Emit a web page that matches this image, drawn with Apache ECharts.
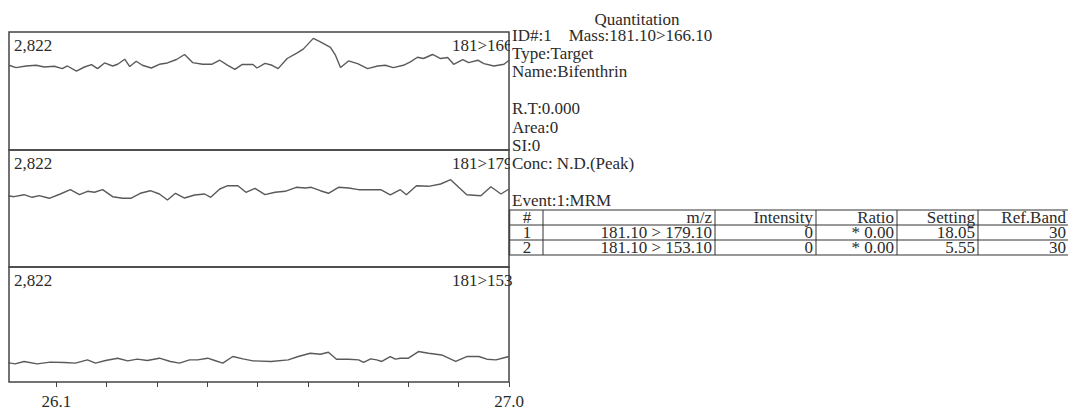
<!DOCTYPE html>
<html><head><meta charset="utf-8">
<script src="https://cdn.jsdelivr.net/npm/echarts@6/dist/echarts.min.js"></script>
<style>html,body{margin:0;padding:0;background:#fff}#c{width:1068px;height:410px}</style>
</head><body><div id="c"></div><script>
// ---- data ----
const xMin = 26.006, xMax = 27.0;
const yMax = 2822;
const yMaxLabel = "2,822";
const channels = ["181>166", "181>179", "181>153"];
const tickValues = [26.1, 26.2, 26.3, 26.4, 26.5, 26.6, 26.7, 26.8, 26.9, 27.0];
const tickLabels = [26.1, 27.0];

const t1 = [26.006,26.020,26.040,26.060,26.076,26.096,26.112,26.122,26.140,26.156,26.170,26.182,26.196,26.212,26.222,26.236,26.246,26.259,26.271,26.289,26.305,26.321,26.339,26.355,26.371,26.391,26.409,26.425,26.441,26.455,26.469,26.491,26.499,26.515,26.529,26.541,26.559,26.579,26.591,26.611,26.625,26.645,26.655,26.665,26.681,26.699,26.719,26.739,26.754,26.770,26.790,26.804,26.818,26.830,26.848,26.864,26.878,26.890,26.908,26.920,26.938,26.950,26.970,26.990,27.000];
const i1 = [2026,1971,2009,2026,1985,2002,1946,2009,1889,1985,2043,1946,2082,2009,2050,2171,1995,2123,2026,1961,2050,2082,2164,2284,2091,2050,2050,2147,2026,1930,2043,2043,1961,2070,2026,1946,2188,2323,2412,2670,2588,2453,2267,1971,2130,2067,1946,2009,2026,1971,2026,2106,2219,2188,2284,2188,2212,2050,2164,2091,2147,2067,2009,2050,2147];

const t2 = [26.002,26.016,26.036,26.052,26.066,26.086,26.108,26.128,26.146,26.162,26.176,26.192,26.212,26.232,26.248,26.267,26.287,26.305,26.321,26.337,26.355,26.375,26.395,26.407,26.425,26.441,26.461,26.477,26.495,26.515,26.535,26.555,26.577,26.595,26.607,26.625,26.641,26.661,26.681,26.701,26.725,26.745,26.764,26.784,26.796,26.816,26.840,26.864,26.884,26.900,26.916,26.944,26.964,26.984,27.000];
const i2 = [1720,1696,1744,1681,1720,1657,1761,1865,1744,1826,1802,1865,1696,1657,1657,1778,1840,1761,1616,1778,1664,1737,1761,1681,1881,1961,1961,1802,1898,1744,1802,1826,1922,1905,1922,1840,1778,1922,1905,1865,1865,1865,1737,1865,1744,1961,1946,2002,2106,1922,1744,1720,1937,1761,1881];

const t3 = [26.002,26.018,26.036,26.062,26.088,26.116,26.138,26.162,26.178,26.198,26.222,26.242,26.261,26.281,26.305,26.327,26.345,26.365,26.381,26.401,26.415,26.431,26.451,26.471,26.491,26.527,26.561,26.581,26.605,26.625,26.641,26.657,26.681,26.701,26.711,26.725,26.737,26.747,26.764,26.774,26.784,26.800,26.820,26.840,26.866,26.894,26.916,26.940,26.956,26.974,26.994,27.000];
const i3 = [479,445,504,445,487,479,462,543,462,528,584,518,560,528,584,504,462,543,543,584,528,462,625,567,518,504,543,625,706,681,730,560,560,543,479,567,543,504,625,560,584,584,747,706,664,504,625,625,560,543,608,625];

const infoTitle = "Quantitation";
const infoLines = ["ID#:1\u00a0\u00a0\u00a0\u00a0Mass:181.10>166.10", "Type:Target", "Name:Bifenthrin", "", "R.T:0.000", "Area:0", "SI:0", "Conc: N.D.(Peak)", "", "Event:1:MRM"];
const tableHeader = ["#", "m/z", "Intensity", "Ratio", "Setting", "Ref.Band"];
const tableRows = [
  ["1", "181.10 > 179.10", "0", "* 0.00", "18.05", "30"],
  ["2", "181.10 > 153.10", "0", "* 0.00", "5.55", "30"]
];

// ---- layout ----
const FONT = "'Liberation Serif','Times New Roman',serif";
const TXT = '#2b2b2b';
const panels = [
  { top: 32, height: 118 },
  { top: 150, height: 117 },
  { top: 267, height: 116 }
];
const gLeft = 9, gWidth = 500;
const seriesT = [t1, t2, t3], seriesI = [i1, i2, i3];

const grid = panels.map(p => ({ left: gLeft, top: p.top, width: gWidth, height: p.height, show: true, borderColor: '#444', borderWidth: 1.5, backgroundColor: 'transparent', containLabel: false }));
const xAxis = panels.map((p, k) => ({
  type: 'value', gridIndex: k, min: xMin, max: xMax, show: k === 2,
  axisLine: { show: false }, splitLine: { show: false },
  axisTick: { show: true, inside: false, length: 5, customValues: tickValues, lineStyle: { color: '#444', width: 1 } },
  axisLabel: { customValues: tickLabels, formatter: v => v.toFixed(1), fontFamily: FONT, fontSize: 17, color: TXT, margin: 11 }
}));
const yAxis = panels.map((p, k) => ({ type: 'value', gridIndex: k, min: 0, max: yMax, show: false }));
const series = panels.map((p, k) => ({
  type: 'line', xAxisIndex: k, yAxisIndex: k, showSymbol: false, symbol: 'none',
  lineStyle: { color: '#5a5a5a', width: 1.4 }, animation: false,
  data: seriesT[k].map((t, j) => [t, seriesI[k][j]])
}));

// text placed by its baseline; compact line box (14px) so neighbouring rows do not collide
function txt(s, x, baseline, align, z) {
  return { type: 'text', z: z, x: x, y: baseline - 5, style: { text: s, font: '17px ' + FONT, lineHeight: 14, fill: TXT, align: align || 'left', verticalAlign: 'middle' } };
}

const graphic = [];
panels.forEach((p, k) => {
  graphic.push(txt(yMaxLabel, 14, p.top + 18, 'left', 1));
  graphic.push(txt(channels[k], 452, p.top + 18, 'left', 1));
});
graphic.push({ type: 'rect', z: 2, shape: { x: 510, y: 0, width: 600, height: 272 }, style: { fill: '#fff' } });
graphic.push(txt(infoTitle, 637, 24, 'center', 3));
infoLines.forEach((s, k) => {
  if (!s) return;
  graphic.push(txt(s, 512, 40 + 18.4 * k, 'left', 3));
});
// table
const rowLines = [210, 225, 240, 255];
const colLines = [543, 715, 816, 897, 978];
const colRight = [null, 712, 813, 894, 975, 1066];
rowLines.forEach(y => graphic.push({ type: 'line', z: 3, shape: { x1: 509, y1: y, x2: 1068, y2: y }, style: { stroke: '#333', lineWidth: 1 } }));
colLines.forEach(x => graphic.push({ type: 'line', z: 3, shape: { x1: x, y1: rowLines[0], x2: x, y2: rowLines[3] }, style: { stroke: '#333', lineWidth: 1 } }));
graphic.push({ type: 'line', z: 3, shape: { x1: 509.5, y1: rowLines[0], x2: 509.5, y2: rowLines[3] }, style: { stroke: '#444', lineWidth: 1.5 } });
[tableHeader].concat(tableRows).forEach((row, r) => {
  row.forEach((cell, c) => {
    const b = rowLines[r + 1] - 3;
    const x = c === 0 ? 527 : colRight[c];
    graphic.push(txt(cell, x, b, c === 0 ? 'center' : 'right', 3));
  });
});

const chart = echarts.init(document.getElementById('c'), null, { renderer: 'svg' });
chart.setOption({ animation: false, backgroundColor: '#fff', grid, xAxis, yAxis, series, graphic });
</script></body></html>
